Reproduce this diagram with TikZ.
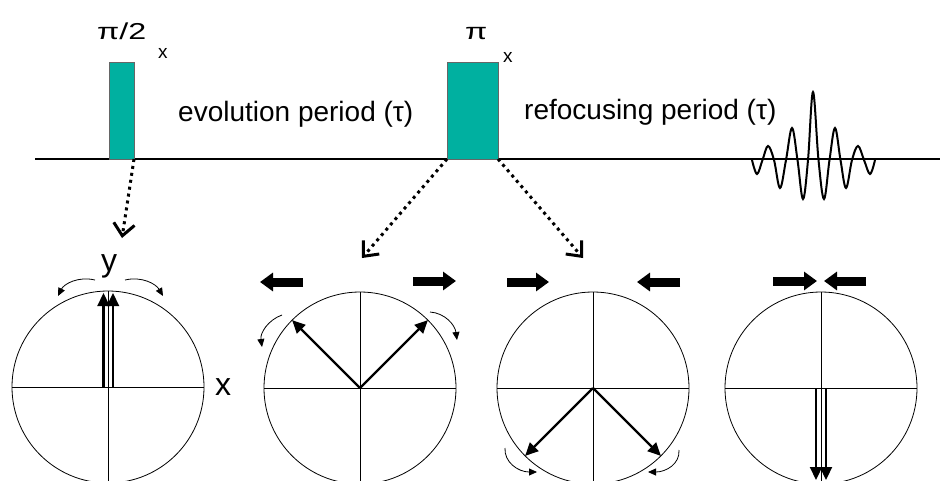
\documentclass[tikz,border=0pt]{standalone}
\usepackage{fontspec}
\setmainfont{Liberation Sans}
\usetikzlibrary{arrows.meta}
\definecolor{pulsecol}{RGB}{0,176,160}
\begin{document}
\begin{tikzpicture}[x=1pt,y=-1pt,
  pulsebox/.style={draw=black!60, fill=pulsecol, line width=0.8pt, inner sep=0pt, outer sep=0pt, anchor=south west, minimum height=97pt},
  lbl/.style={font=\fontsize{28}{32}\selectfont, inner sep=0pt, anchor=base west},
  anglelbl/.style={font=\fontsize{23}{28}\selectfont, inner sep=0pt, anchor=base west},
  sublbl/.style={font=\fontsize{19}{22}\selectfont, inner sep=0pt, anchor=base west},
  axlbl/.style={font=\fontsize{32}{36}\selectfont, inner sep=0pt},
  sphere/.style={circle, draw, line width=0.8pt, minimum size=192pt, inner sep=0pt, outer sep=0pt},
  axisline/.style={line width=0.7pt},
  vec/.style={line width=2.2pt, -{Triangle[length=13pt,width=12pt]}},
  spin/.style={line width=0.8pt, -{Triangle[length=8pt,width=7pt]}},
  blockarrow/.style={line width=9pt, -{Triangle[length=13pt,width=18pt]}},
  flip/.style={line width=3pt, dash pattern=on 3pt off 4pt, -{Straight Barb[length=12pt,width=21pt]}}
]
\useasboundingbox (0,0) rectangle (940,480);
\clip (0,0) rectangle (940,480);

% pulse sequence baseline
\coordinate (b0) at (35,159);
\coordinate (b1) at (940,159);
\draw[line width=2pt] (b0) -- (b1);

% pulses
\node[pulsebox, minimum width=25pt] (p1) at (109,159) {};
\node[pulsebox, minimum width=51pt] (p2) at (447,159) {};

% labels
\node[anglelbl] (l1) at (97,39) {\scalebox{1.4}[1]{π/2}};
\node[sublbl] (s1) at (158,58) {x};
\node[anglelbl] (l2) at (465,39) {\scalebox{1.4}[1]{π}};
\node[sublbl] (s2) at (503,62) {x};
\node[lbl] (ev) at (178,121) {evolution period (τ)};
\node[lbl] (rf) at (524,119) {refocusing period (τ)};

% echo
\draw[line width=2pt] plot[smooth, tension=0.6] coordinates {
 (752,160) (757,174) (762.5,160) (768,146) (774,160) (780,188) (786,160)
 (792,128) (797.5,160) (803,199) (808,160) (813,92) (818.5,160) (824,199)
 (829.5,160) (835,128) (840.5,160) (846,188) (852,160) (858,146) (864,160)
 (870,174) (875,160)};

% dotted arrows
\coordinate (t1) at (122,238);
\coordinate (t2) at (362,258);
\coordinate (t3) at (583,258);
\draw[flip] (p1.south east) -- (t1);
\draw[flip] (p2.south west) -- (t2);
\draw[flip] (p2.south east) -- (t3);

% circle 1
\node[sphere] (c1) at (108,387) {};
\draw[axisline] (c1.west) -- (c1.east);
\draw[axisline] (c1.north) -- (c1.south);
\draw[vec] (103.5,387) -- (103.5,293);
\draw[vec] (113,387) -- (113,293);
\draw[spin] (95,280) .. controls (78,276) and (64,284) .. (58,296);
\draw[spin] (125,280) .. controls (142,276) and (156,284) .. (163,296);
\node[axlbl, anchor=base] (ylab) at (109,271) {y};
\node[axlbl, anchor=base west] (xlab) at (215,395) {x};

% circle 2
\node[sphere] (c2) at (360,388) {};
\draw[axisline] (c2.west) -- (c2.east);
\draw[axisline] (c2.north) -- (c2.south);
\draw[vec] (c2.center) -- (c2.135);
\draw[vec] (c2.center) -- (c2.45);
\draw[spin] (282,315) .. controls (268,320) and (260,333) .. (262,347);
\draw[spin] (430,312) .. controls (445,313) and (455,325) .. (457,340);
\draw[blockarrow] (303,282) -- (260,282);
\draw[blockarrow] (413,281) -- (456,281);

% circle 3
\node[sphere] (c3) at (593,388) {};
\draw[axisline] (c3.west) -- (c3.east);
\draw[axisline] (c3.north) -- (c3.south);
\draw[vec] (c3.center) -- (c3.225);
\draw[vec] (c3.center) -- (c3.315);
\draw[spin] (505,448) .. controls (504,462) and (518,472) .. (537,472);
\draw[spin] (679,450) .. controls (680,464) and (666,472) .. (648,472);
\draw[blockarrow] (507,282) -- (549,282);
\draw[blockarrow] (680,282) -- (637,282);

% circle 4
\node[sphere] (c4) at (821,388) {};
\draw[axisline] (c4.west) -- (c4.east);
\draw[axisline] (c4.north) -- (c4.south);
\draw[vec] (816,388) -- (816,480);
\draw[vec] (826,388) -- (826,480);
\draw[blockarrow] (773,281) -- (817,281);
\draw[blockarrow] (866,281) -- (824,281);
\end{tikzpicture}
\end{document}
